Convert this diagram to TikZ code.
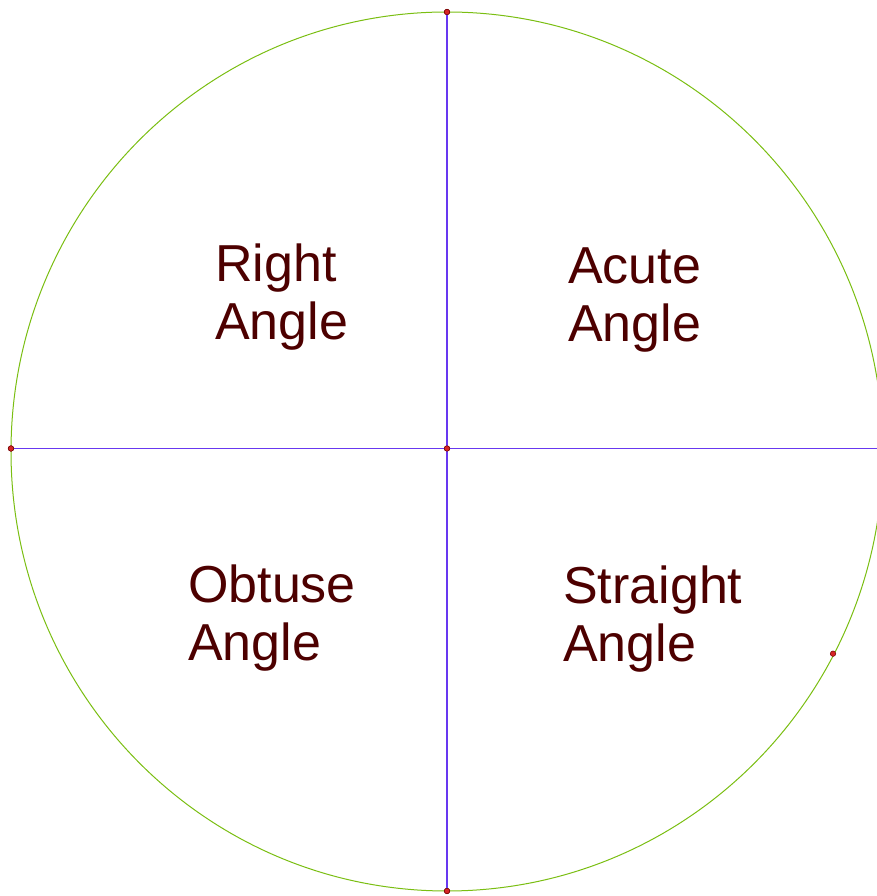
\documentclass[tikz,border=0pt]{standalone}
\usepackage{fontspec}
\setmainfont{Liberation Sans}
\usepackage{xcolor}
\usetikzlibrary{positioning}

\definecolor{rimgreen}{RGB}{122,190,18}
\definecolor{axisblue}{RGB}{104,56,240}
\definecolor{txtred}{RGB}{77,0,0}
\definecolor{ptred}{RGB}{214,36,36}
\definecolor{ptedge}{RGB}{110,0,0}

\begin{document}
\begin{tikzpicture}[x=1pt,y=1pt,
  pt/.style={circle,fill=ptred,draw=ptedge,line width=0.5pt,inner sep=0pt,minimum size=5.5pt},
  axisline/.style={draw=axisblue,line width=1.1pt},
  quadtext/.style={anchor=base west,align=left,inner sep=0pt,text=txtred,
    font=\fontsize{52}{58}\selectfont},
]
  \useasboundingbox (0,0) rectangle (877,896);
  % outer circle
  \draw[rimgreen,line width=1pt] (447,444.5) ellipse [x radius=436,y radius=439.5];
  % points
  \coordinate (east) at (877,447.5);
  \node[pt] (top) at (447,884) {};
  \node[pt] (bottom) at (447,5) {};
  \node[pt] (west) at (11,447.5) {};
  \node[pt] (centre) at (447,447.5) {};
  \node[pt] (rim) at (833,242.3) {};
  % axes
  \draw[axisline] (top.center) -- (bottom.center);
  \draw[axisline] (west.center) -- (east);
  \foreach \p in {top,bottom,west,centre}
    \node[pt] at (\p) {};
  % quadrant labels
  \node[quadtext] (right) at (215,556) {Right\\Angle};
  \node[quadtext] (acute) at (568,554) {Acute\\Angle};
  \node[quadtext] (obtuse) at (188,235) {Obtuse\\Angle};
  \node[quadtext] (straight) at (563,234) {Straight\\Angle};
\end{tikzpicture}
\end{document}
